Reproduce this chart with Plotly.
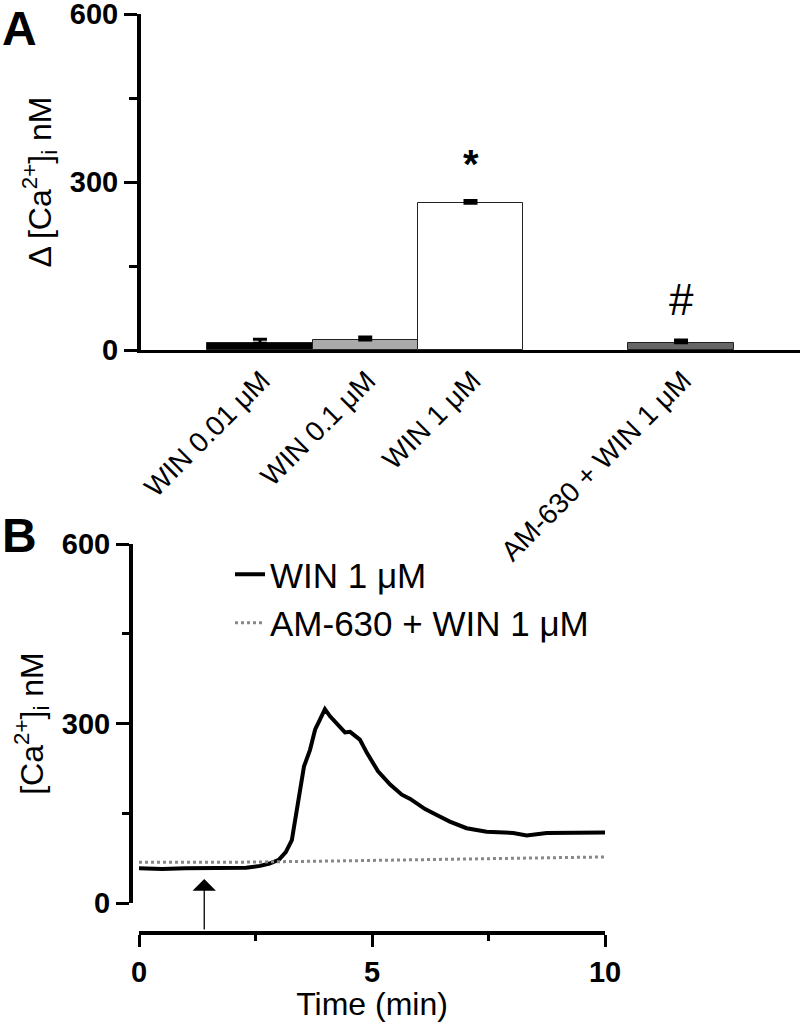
import plotly.graph_objects as go

# ---- panel A: bar chart ----
A_LABELS = ["WIN 0.01 μM", "WIN 0.1 μM", "WIN 1 μM", "AM-630 + WIN 1 μM"]
A_POS = [0, 1, 2, 4]
A_MEAN = [12, 18, 262, 13]
A_SEM = [7, 5, 5, 5]
A_COLORS = ["black", "#aaaaaa", "white", "#666666"]
A_MARKS = ["", "", "*", "#"]

# ---- panel B: time courses ----
WIN_T = [0, 0.5, 1.0, 1.5, 2.0, 2.3, 2.6, 2.8, 3.0, 3.15, 3.28, 3.38, 3.49, 3.54,
         3.67, 3.78, 3.88, 3.99, 4.10, 4.28, 4.42, 4.53, 4.74, 4.89, 5.13, 5.39,
         5.64, 5.82, 6.14, 6.39, 6.67, 7.03, 7.46, 8.03, 8.32, 8.75, 9.32, 10.0]
WIN_CA = [58, 57, 58, 58, 58, 59, 62, 66, 72, 85, 105, 150, 206, 228,
          256, 290, 306, 324, 312, 298, 285, 286, 273, 251, 220, 198,
          181, 174, 157, 147, 136, 125, 119, 117, 113, 117, 117, 118]
AM_T = [0, 2, 4, 6, 8, 10]
AM_CA = [68, 68, 70, 72, 74, 77]
ARROW_T = 1.4

FONT = "Liberation Sans, Arial, Helvetica, sans-serif"
W, H = 800, 1022


def px_x(x):
    return x / W


def px_y(y):
    return 1 - y / H


fig = go.Figure()

fig.add_trace(
    go.Bar(
        x=A_POS,
        y=A_MEAN,
        width=1,
        marker=dict(color=A_COLORS, line=dict(color="#222222", width=1)),
        error_y=dict(
            type="data",
            symmetric=False,
            array=A_SEM,
            arrayminus=[0] * len(A_SEM),
            color="black",
            thickness=3,
            width=7,
        ),
        showlegend=False,
        xaxis="x",
        yaxis="y",
    )
)

for xp, m, s, mark in zip(A_POS, A_MEAN, A_SEM, A_MARKS):
    if not mark:
        continue
    fig.add_annotation(
        x=xp,
        y=m + s,
        xref="x",
        yref="y",
        text=mark,
        showarrow=False,
        yanchor="middle",
        yshift=36 if mark == "*" else 40,
        font=dict(family=FONT, size=40 if mark == "*" else 44, color="black",
                  weight="bold" if mark == "*" else "normal"),
    )

fig.add_trace(
    go.Scatter(
        x=WIN_T,
        y=WIN_CA,
        mode="lines",
        line=dict(color="black", width=4),
        name="WIN 1 μM",
        xaxis="x2",
        yaxis="y2",
    )
)
fig.add_trace(
    go.Scatter(
        x=AM_T,
        y=AM_CA,
        mode="lines",
        line=dict(color="#888888", width=3, dash="dot"),
        name="AM-630 + WIN 1 μM",
        xaxis="x2",
        yaxis="y2",
    )
)

fig.add_annotation(
    x=ARROW_T, y=40, ax=ARROW_T, ay=-47,
    xref="x2", yref="y2", axref="x2", ayref="y2",
    text="", showarrow=True,
    arrowhead=1, arrowsize=3, arrowwidth=1.3, arrowcolor="black",
)

# panel letters
fig.add_annotation(x=0, y=px_y(28), xref="paper", yref="paper", text="A",
                   showarrow=False, xanchor="left", yanchor="middle",
                   font=dict(family=FONT, size=48, color="black", weight="bold"))
fig.add_annotation(x=0, y=px_y(535), xref="paper", yref="paper", text="B",
                   showarrow=False, xanchor="left", yanchor="middle",
                   font=dict(family=FONT, size=48, color="black", weight="bold"))

tick_font = dict(family=FONT, size=29, color="black", weight="bold")
title_font = dict(family=FONT, size=32, color="black")

fig.update_layout(
    width=W,
    height=H,
    margin=dict(l=0, r=0, t=0, b=0),
    paper_bgcolor="white",
    plot_bgcolor="white",
    bargap=0,
    font=dict(family=FONT, color="black"),
    xaxis=dict(
        domain=[px_x(141), 1.0],
        range=[-1.13, 5.13],
        anchor="y",
        automargin=False,
        showline=True,
        linewidth=3,
        linecolor="black",
        showgrid=False,
        zeroline=False,
        ticks="",
        tickvals=A_POS,
        ticktext=A_LABELS,
        tickangle=-45,
        ticklabelshift=2,
        tickfont=dict(family=FONT, size=28, color="black"),
    ),
    yaxis=dict(
        domain=[px_y(350), px_y(14)],
        range=[0, 600],
        anchor="x",
        automargin=False,
        showline=True,
        linewidth=4,
        linecolor="black",
        showgrid=False,
        zeroline=False,
        ticks="outside",
        ticklen=13,
        tickwidth=3,
        tickcolor="black",
        tickvals=[0, 300, 600],
        tickfont=tick_font,
        ticklabeloverflow="allow",
        minor=dict(ticks="outside", dtick=150, ticklen=8, tickwidth=3, tickcolor="black"),
        title=dict(text="Δ [Ca<sup>2+</sup>]<sub>i</sub> nM", font=title_font, standoff=10),
    ),
    xaxis2=dict(
        domain=[px_x(139), px_x(605)],
        range=[0, 10],
        anchor="free",
        position=px_y(933),
        automargin=False,
        showline=True,
        linewidth=4,
        linecolor="black",
        showgrid=False,
        zeroline=False,
        ticks="outside",
        ticklen=12,
        tickwidth=3,
        tickcolor="black",
        tickvals=[0, 5, 10],
        tickfont=tick_font,
        minor=dict(ticks="outside", dtick=2.5, ticklen=6, tickwidth=3, tickcolor="black"),
        title=dict(text="Time (min)", font=title_font, standoff=0),
    ),
    yaxis2=dict(
        domain=[px_y(903), px_y(544)],
        range=[0, 600],
        anchor="free",
        position=px_x(131),
        automargin=False,
        showline=True,
        linewidth=4,
        linecolor="black",
        showgrid=False,
        zeroline=False,
        ticks="outside",
        ticklen=13,
        tickwidth=3,
        tickcolor="black",
        tickvals=[0, 300, 600],
        tickfont=tick_font,
        minor=dict(ticks="outside", dtick=150, ticklen=7, tickwidth=3, tickcolor="black"),
        title=dict(text="[Ca<sup>2+</sup>]<sub>i</sub> nM", font=title_font, standoff=8),
    ),
    legend=dict(
        x=px_x(230),
        y=px_y(545),
        xanchor="left",
        yanchor="top",
        bgcolor="rgba(0,0,0,0)",
        font=dict(family=FONT, size=35, color="black"),
        tracegroupgap=0,
    ),
)

# the page body has a default 8px margin; drop it so the figure sits at the corner
fig.write_html(
    "out.html",
    config={"displayModeBar": False},
    post_script="document.body.style.margin='0px';",
)
